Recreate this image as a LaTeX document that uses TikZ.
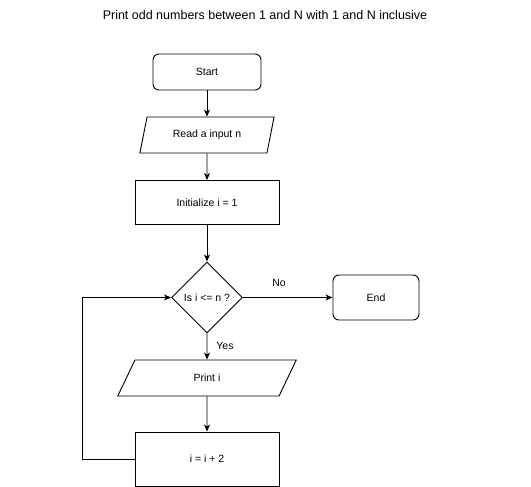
\documentclass[tikz,border=0pt]{standalone}
\usepackage{fontspec}
\setmainfont{Liberation Sans}
\usetikzlibrary{shapes.geometric,arrows.meta}

\tikzset{
  base/.style={draw=black, line width=0.9pt, inner sep=0pt, align=center,
               font=\fontsize{10.5}{12}\selectfont},
  termbox/.style={base, rectangle, rounded corners=6pt},
  procbox/.style={base, rectangle},
  iobox/.style={base, trapezium, trapezium left angle=67.4,
                trapezium right angle=112.6, trapezium stretches=true},
  decbox/.style={base, diamond, minimum width=71pt, minimum height=71pt},
  flow/.style={draw=black, line width=0.9pt,
               -{Stealth[length=7pt, width=6pt, inset=2pt]}},
  lbl/.style={font=\fontsize{10.5}{12}\selectfont, inner sep=0pt}
}

\begin{document}
\begin{tikzpicture}[x=1pt, y=-1pt]
  \useasboundingbox (0,0) rectangle (531,487);

  % heading
  \node[font=\fontsize{12.5}{14}\selectfont, inner sep=0pt] (title) at (265,15)
    {Print odd numbers between 1 and N with 1 and N inclusive};

  % main column
  \node[termbox, minimum width=108pt, minimum height=36pt] (start) at (207,72) {Start};
  \node[iobox, minimum width=135pt, minimum height=36pt] (read) at (207,135) {Read a input n};
  \node[procbox, minimum width=144pt, minimum height=44pt] (init) at (207,202.5) {Initialize i = 1};
  \node[decbox] (dec) at (207,297.5) {Is i <= n ?};
  \node[termbox, minimum width=86pt, minimum height=45pt] (end) at (376,297.5) {End};
  \node[iobox, minimum width=179pt, minimum height=36pt] (print) at (207,378) {Print i};
  \node[procbox, minimum width=144pt, minimum height=54pt] (upd) at (207,459) {i = i + 2};

  % loop-back corner points
  \coordinate (lb) at (82,459);

  % connectors
  \draw[flow] (start) -- (read);
  \draw[flow] (read) -- (init);
  \draw[flow] (init) -- (dec);
  \draw[flow] (dec) -- (end);
  \draw[flow] (dec) -- (print);
  \draw[flow] (print) -- (upd);
  \draw[flow] (upd.west) -- (lb) |- (dec.west);

  % branch labels
  \node[lbl] (no) at (279,283) {No};
  \node[lbl] (yes) at (225,346) {Yes};
\end{tikzpicture}
\end{document}
